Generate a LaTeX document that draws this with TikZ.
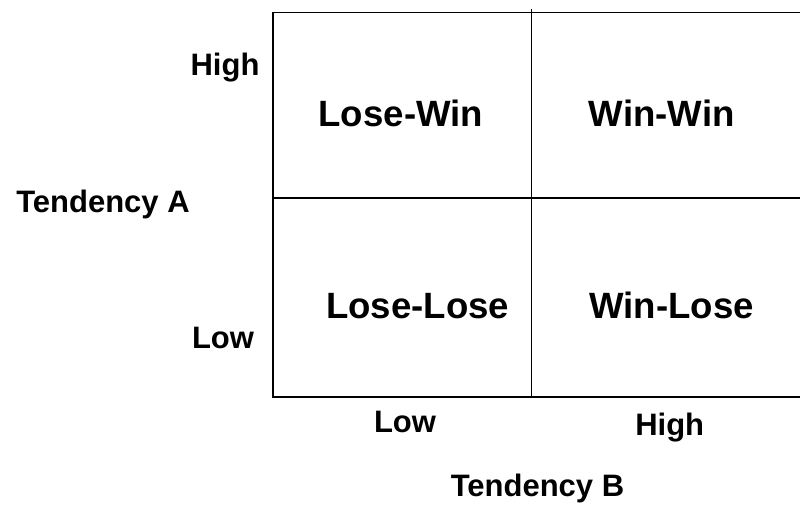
\documentclass[tikz,border=0pt]{standalone}
\usepackage{fontspec}
\setmainfont{Liberation Sans}
\begin{document}
\begin{tikzpicture}[x=1pt,y=-1pt,
  grid/.style={line width=1.6pt, black},
  quad/.style={anchor=base, inner sep=0pt, font=\fontsize{36.6}{40}\selectfont\bfseries},
  axlab/.style={anchor=base, inner sep=0pt, font=\fontsize{31}{36}\selectfont\bfseries}]
\useasboundingbox (0,0) rectangle (801,504);
% grid corners
\coordinate (tl) at (273,12.5);
\coordinate (tr) at (800,12.5);
\coordinate (ml) at (273,198);
\coordinate (mr) at (800,198);
\coordinate (bl) at (273,397);
\coordinate (br) at (800,397);
\coordinate (vt) at (531.5,9);
\coordinate (vb) at (531.5,397);
\draw[grid] (tr) -- (tl) -- (bl) -- (br);
\draw[grid] (ml) -- (mr);
\draw[grid] (vt) -- (vb);
% quadrant labels
\node[quad] (lw) at (400.8,126.7) {Lose-Win};
\node[quad] (ww) at (661.7,126.7) {Win-Win};
\node[quad] (ll) at (417.7,318.3) {Lose-Lose};
\node[quad] (wl) at (671.5,318.2) {Win-Lose};
% axis labels
\node[axlab] (ahigh) at (225,75.7) {High};
\node[axlab] (ta) at (103,212.7) {Tendency A};
\node[axlab] (alow) at (223,348) {Low};
\node[axlab] (blow) at (405,432.7) {Low};
\node[axlab] (bhigh) at (669.7,435) {High};
\node[axlab] (tb) at (537.5,496.7) {Tendency B};
\end{tikzpicture}
\end{document}
